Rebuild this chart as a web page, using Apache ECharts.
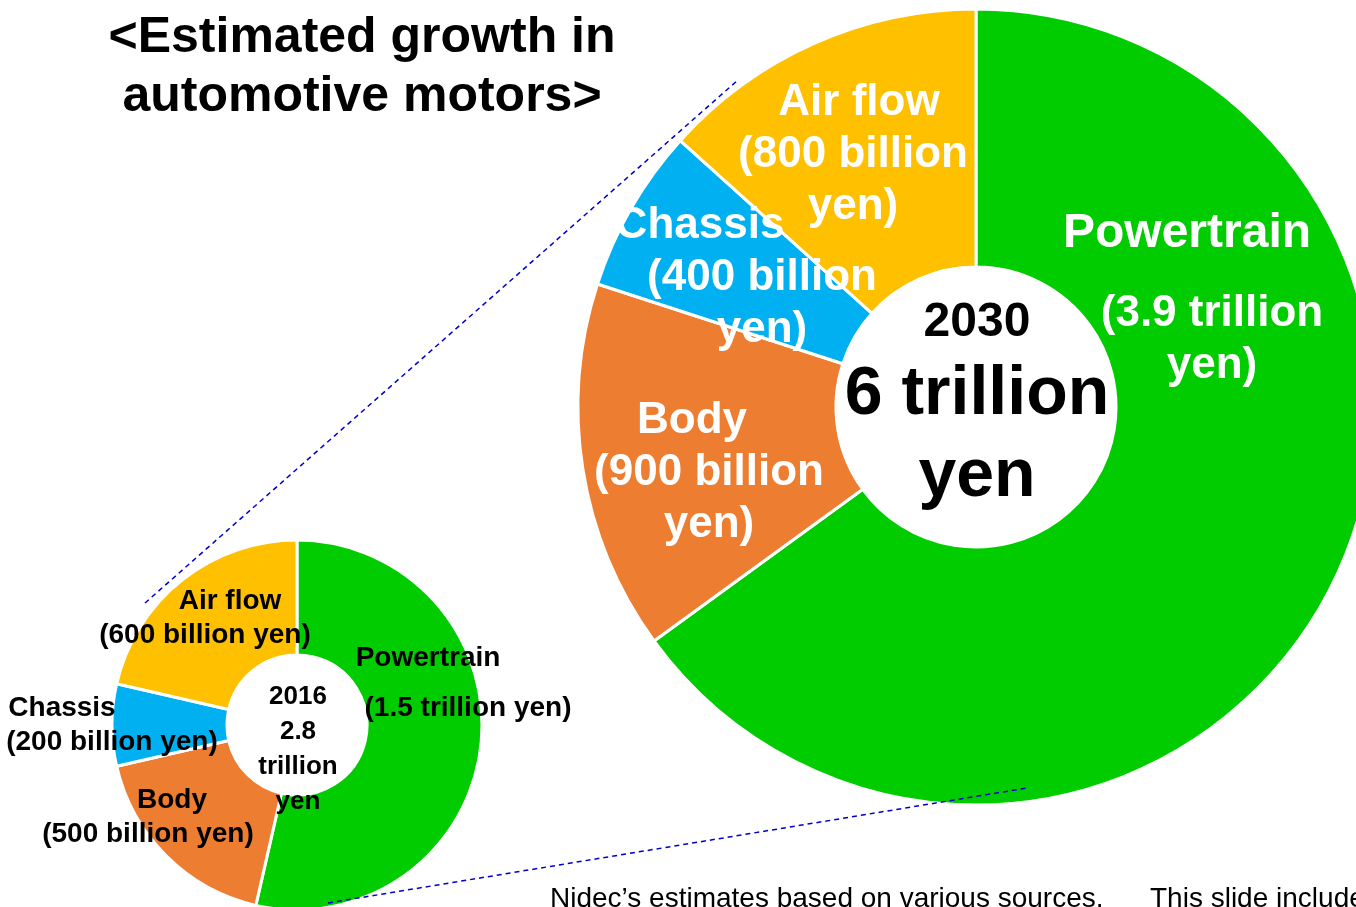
<!DOCTYPE html>
<html>
<head>
<meta charset="utf-8">
<title>Estimated growth in automotive motors</title>
<script src="https://cdn.jsdelivr.net/npm/echarts@6/dist/echarts.min.js"></script>
<style>
  html, body { margin: 0; padding: 0; background: #fff; }
  #chart { width: 1356px; height: 907px; }
</style>
</head>
<body>
<div id="chart"></div>
<script>
// segment names, in clockwise order from 12 o'clock
const segments = ['Powertrain', 'Body', 'Chassis', 'Air flow'];
// 2016 market, trillion yen
const values2016 = [1.5, 0.5, 0.2, 0.6];
const amounts2016 = ['1.5 trillion yen', '500 billion yen', '200 billion yen', '600 billion yen'];
// 2030 market, trillion yen
const values2030 = [3.9, 0.9, 0.4, 0.8];
const amounts2030 = ['3.9 trillion\nyen', '900 billion\nyen', '400 billion\nyen', '800 billion\nyen'];
const totals = { 2016: ['2016', '2.8', 'trillion', 'yen'], 2030: ['2030', '6 trillion', 'yen'] };

const colors = ['#00cc00', '#ed7d31', '#00b0f0', '#ffc000'];
const FONT = '"Liberation Sans", Arial, Helvetica, sans-serif';

// label placement (px) – layout only
const smallLabelPos = [[468, 675], [148, 817], [112, 725], [205, 618]];
const smallFirstShift = [-40, 24, -50, 25];
const bigLabelPos = [[1212, 286], [709, 473], [762, 278], [853, 155]];
const bigFirstShift = [-25, -17, -62, 6];

const chart = echarts.init(document.getElementById('chart'));

// shift first line of a centred block by padding one side
const shiftPad = (d) => d < 0 ? [0, -2 * d, 0, 0] : [0, 0, 0, 2 * d];

const smallData = segments.map((name, i) => ({
  name,
  value: values2016[i],
  itemStyle: { color: colors[i] },
  label: {
    formatter: `{h|${name}}\n{t|(${amounts2016[i]})}`,
    rich: {
      h: { fontSize: 28, fontWeight: 'bold', fontFamily: FONT, color: '#000', lineHeight: i === 0 ? 66 : 34, padding: shiftPad(smallFirstShift[i]) },
      t: { fontSize: 28, fontWeight: 'bold', fontFamily: FONT, color: '#000', lineHeight: 34 }
    }
  }
}));

const bigData = segments.map((name, i) => {
  const lines = amounts2030[i].split('\n');
  return {
    name,
    value: values2030[i],
    itemStyle: { color: colors[i] },
    label: {
      formatter: `{h|${name}}\n{t|(${lines[0]}}\n{t|${lines[1]})}`,
      rich: {
        h: { fontSize: i === 0 ? 48 : 44, fontWeight: 'bold', fontFamily: FONT, color: '#fff', lineHeight: i === 0 ? 108 : 52, padding: shiftPad(bigFirstShift[i]) },
        t: { fontSize: 44, fontWeight: 'bold', fontFamily: FONT, color: '#fff', lineHeight: 52 }
      }
    }
  };
});

const option = {
  animation: false,
  backgroundColor: '#ffffff',
  title: [
    {
      text: '<Estimated growth in\nautomotive motors>',
      left: 357, top: 4, textAlign: 'center',
      textStyle: { fontSize: 50, fontWeight: 'bold', fontFamily: FONT, color: '#000', lineHeight: 59 }
    },
    {
      text: totals[2030].map((t, k) => `{${'abb'[k]}|${t}}`).join('\n'),
      left: 972, top: 287, textAlign: 'center',
      textStyle: {
        rich: {
          a: { fontSize: 48, fontWeight: 'bold', fontFamily: FONT, color: '#000', lineHeight: 62, align: 'center' },
          b: { fontSize: 68, fontWeight: 'bold', fontFamily: FONT, color: '#000', lineHeight: 82, align: 'center' }
        }
      }
    },
    {
      text: totals[2016].join('\n'),
      left: 293, top: 674, textAlign: 'center',
      textStyle: { fontSize: 26, fontWeight: 'bold', fontFamily: FONT, color: '#000', lineHeight: 35, align: 'center' }
    },
    {
      text: 'Nidec\u2019s estimates based on various sources.',
      left: 545, top: 880,
      textStyle: { fontSize: 28, fontWeight: 'normal', fontFamily: FONT, color: '#000' }
    },
    {
      text: 'This slide includes',
      left: 1145, top: 880,
      textStyle: { fontSize: 28, fontWeight: 'normal', fontFamily: FONT, color: '#000' }
    }
  ],
  series: [
    {
      type: 'pie',
      center: [297, 725],
      radius: [70, 185],
      startAngle: 90,
      clockwise: true,
      silent: true,
      itemStyle: { borderColor: '#fff', borderWidth: 3 },
      label: { show: true, position: 'inside' },
      labelLine: { show: false },
      labelLayout: (p) => ({ x: smallLabelPos[p.dataIndex][0], y: smallLabelPos[p.dataIndex][1], align: 'center', verticalAlign: 'middle' }),
      data: smallData
    },
    {
      type: 'pie',
      center: [976, 407],
      radius: [140, 398],
      startAngle: 90,
      clockwise: true,
      silent: true,
      itemStyle: { borderColor: '#fff', borderWidth: 3 },
      label: { show: true, position: 'inside' },
      labelLine: { show: false },
      labelLayout: (p) => ({ x: bigLabelPos[p.dataIndex][0], y: bigLabelPos[p.dataIndex][1], align: 'center', verticalAlign: 'middle' }),
      data: bigData
    }
  ],
  graphic: [
    {
      type: 'line', z: 100,
      shape: { x1: 145, y1: 603, x2: 738, y2: 80 },
      style: { stroke: '#0000cc', lineWidth: 1.5, lineDash: [5, 4] }
    },
    {
      type: 'line', z: 100,
      shape: { x1: 328, y1: 903, x2: 1027, y2: 788 },
      style: { stroke: '#0000cc', lineWidth: 1.5, lineDash: [5, 4] }
    }
  ]
};

chart.setOption(option);
window.addEventListener('resize', () => chart.resize());
</script>
</body>
</html>
